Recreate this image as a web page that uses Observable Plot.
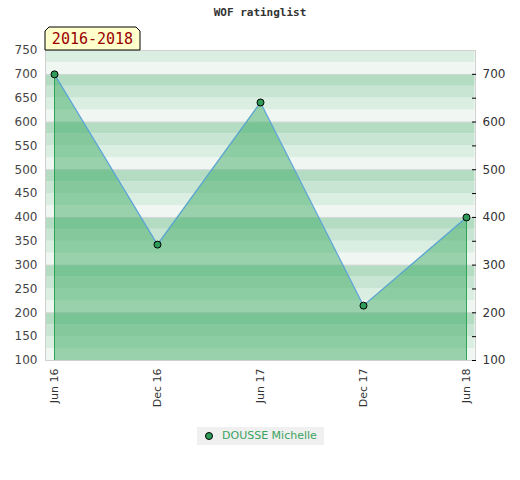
<!DOCTYPE html>
<html>
<head>
<meta charset="utf-8">
<script src="https://cdn.jsdelivr.net/npm/d3@7"></script>
<script src="https://cdn.jsdelivr.net/npm/@observablehq/plot@0.6"></script>
<style>
  body { margin: 0; background: #fff; font-family: "DejaVu Sans", sans-serif; }
  #wrap { position: relative; width: 520px; height: 480px; }
  #title { position: absolute; top: 6px; left: 0; width: 520px; text-align: center; z-index: 2;
    font-family: "DejaVu Sans Mono", monospace; font-weight: bold; font-size: 11px; color: #333; }
  #chart { position: absolute; top: 0; left: 0; z-index: 1; }
  #legend { position: absolute; top: 427px; left: 197px; width: 127px; height: 18px; z-index: 2;
    background: #f0f0f0; font-size: 11px; color: #3aa35f; line-height: 18px; }
  #legend .dot { position: absolute; left: 8px; top: 5px; width: 6px; height: 6px; border-radius: 50%;
    background: #2e9b58; border: 1px solid #000; }
  #legend .lbl { position: absolute; left: 25px; top: 0; }
</style>
</head>
<body>
<div id="wrap">
  <div id="title">WOF ratinglist</div>
  <div id="chart"></div>
  <div id="legend"><span class="dot"></span><span class="lbl">DOUSSE Michelle</span></div>
</div>
<script>
const periods = ["Jun 16", "Dec 16", "Jun 17", "Dec 17", "Jun 18"];
const ratings = [700, 343, 641, 215, 400];
const seriesName = "DOUSSE Michelle";
const rangeLabel = "2016-2018";
const yMin = 100, yMax = 750;
const leftTicks = d3.range(100, 751, 50);
const rightTicks = d3.range(100, 701, 50);
const rightLabels = d3.range(100, 701, 100);

const data = periods.map((p, i) => ({period: p, rating: ratings[i]}));

// background bands every 25 units (styling)
const bandColors = ["#f0f7f2", "#dbeee2", "#c8e5d3", "#b3dcc3"];
const bands = d3.range(yMin, yMax, 25).map(v => ({y1: v, y2: v + 25, k: Math.floor((v % 100) / 25)}));

const first = data[0], last = data[data.length - 1];

const chart = Plot.plot({
  width: 520,
  height: 415,
  marginTop: 50,
  marginLeft: 45,
  marginRight: 45,
  marginBottom: 55,
  style: {fontFamily: "DejaVu Sans, sans-serif", fontSize: "11px", color: "#333", background: "transparent"},
  x: {type: "point", domain: periods, padding: 0.082, label: null},
  y: {domain: [yMin, yMax], label: null},
  marks: [
    Plot.rect(bands, {x1: () => periods[0], x2: () => periods[periods.length-1], y1: "y1", y2: "y2",
      fill: d => bandColors[d.k], insetLeft: -8.5, insetRight: -8.5}),
    Plot.ruleY(d3.range(200, 701, 100), {stroke: "#d8d8d8", strokeWidth: 1}),
    Plot.areaY(data, {x: "period", y1: yMin, y2: "rating", fill: "#40ab65", fillOpacity: 0.5, curve: "linear"}),
    Plot.ruleX([first, last], {x: "period", y1: yMin, y2: "rating", stroke: "#2ea455", strokeWidth: 1}),
    Plot.line(data, {x: "period", y: "rating", stroke: "#5ba3d9", strokeWidth: 1.2}),
    Plot.dot(data, {x: "period", y: "rating", r: 3.5, fill: "#2e9b58", stroke: "#000", strokeWidth: 1}),
    Plot.frame({stroke: "#d0d0d0"}),
    Plot.axisY(leftTicks, {anchor: "left", tickSize: 0, tickPadding: 8, fontSize: 12, fill: "#444"}),
    Plot.axisY(rightTicks, {anchor: "right", tickSize: -4, tickFormat: d => rightLabels.includes(d) ? d : "", tickPadding: 11, fontSize: 12, fill: "#333", stroke: "#000"}),
    Plot.axisX({anchor: "bottom", tickSize: 0, tickRotate: -90, tickPadding: 8, fontSize: 11, fill: "#333"})
  ]
});
document.getElementById("chart").appendChild(chart);

// range badge above top-left of plot
const svg = d3.select(chart);
const bx = 45, by = 27, bw = 95, bh = 23, c = 4;
svg.append("path")
  .attr("d", `M${bx},${by+bh} L${bx},${by+c} L${bx+c},${by} L${bx+bw-c},${by} L${bx+bw},${by+c} L${bx+bw},${by+bh} Z`)
  .attr("fill", "#ffffcc").attr("stroke", "#000").attr("stroke-width", 1);
svg.append("text").text(rangeLabel)
  .attr("x", bx + bw/2).attr("y", by + 17).attr("text-anchor", "middle")
  .attr("font-family", "DejaVu Sans Mono, monospace").attr("font-size", 15)
  .attr("fill", "#990000");
</script>
</body>
</html>
